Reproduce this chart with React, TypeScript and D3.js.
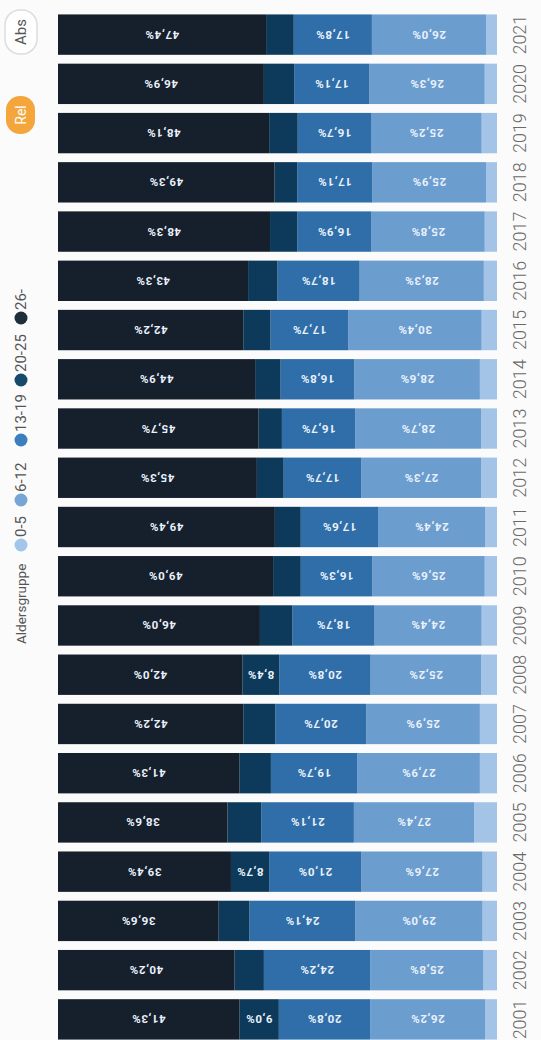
import React from "react";
import * as d3 from "d3";

const W = 541;
const H = 1040;

const years = ["2001", "2002", "2003", "2004", "2005", "2006", "2007", "2008", "2009", "2010", "2011",
  "2012", "2013", "2014", "2015", "2016", "2017", "2018", "2019", "2020", "2021"];
const ageGroups = ["0-5", "6-12", "13-19", "20-25", "26-"];

// share per age group, 2001..2021
const age0to5 = [2.7, 3.1, 3.3, 3.3, 5.2, 3.9, 3.9, 3.6, 3.5, 2.8, 2.7, 3.6, 3.6, 3.9, 3.5, 3.0, 2.8, 2.5, 3.5, 2.8, 2.5];
const age6to12 = [26.2, 25.8, 29.0, 27.6, 27.4, 27.9, 25.9, 25.2, 24.4, 25.6, 24.4, 27.3, 28.7, 28.6, 30.4, 28.3, 25.8, 25.9, 25.2, 26.3, 26.0];
const age13to19 = [20.8, 24.2, 24.1, 21.0, 21.1, 19.7, 20.7, 20.8, 18.7, 16.3, 17.6, 17.7, 16.7, 16.8, 17.7, 18.7, 16.9, 17.1, 16.7, 17.1, 17.8];
const age20to25 = [9.0, 6.7, 7.0, 8.7, 7.7, 7.2, 7.3, 8.4, 7.4, 6.3, 5.9, 6.1, 5.3, 5.8, 6.2, 6.7, 6.2, 5.2, 6.5, 6.9, 6.3];
const age26plus = [41.3, 40.2, 36.6, 39.4, 38.6, 41.3, 42.2, 42.0, 46.0, 49.0, 49.4, 45.3, 45.7, 44.9, 42.2, 43.3, 48.3, 49.3, 48.1, 46.9, 47.4];

const colors = ["#a3c4e6", "#6c9dcf", "#2f6ea8", "#0d3a5a", "#161f2c"];
const dotColors = ["#a2c5e8", "#77a6d6", "#3c7fbf", "#164a6b", "#1f2e3b"];

const rows = years.map((year, i) => ({
  year,
  "0-5": age0to5[i],
  "6-12": age6to12[i],
  "13-19": age13to19[i],
  "20-25": age20to25[i],
  "26-": age26plus[i],
}));

export default function App() {
  // chart is laid out in its own landscape frame, then turned a quarter to match the photo
  const x = d3.scaleBand().domain(years).range([-4, 1030]).paddingInner(0.18).paddingOuter(0.09);
  const y = d3.scaleLinear().domain([0, 100]).range([497, 58]);
  const series = d3.stack().keys(ageGroups)(rows as any);
  const fmt = (v: number) => v.toFixed(1).replace(".", ",") + "%";

  // legend positions along the top edge
  const legendX = [495, 540, 600, 660, 722];
  const legendTextX = [503, 548, 608, 668, 730];

  return (
    <svg width={W} height={H} style={{ position: "absolute", left: 0, top: 0, background: "#fbfbfb" }}
      fontFamily="Roboto, 'Open Sans', sans-serif">
      <g transform={`translate(0,${H}) rotate(-90)`}>
        {series.map((s, k) => (
          <g key={ageGroups[k]} fill={colors[k]}>
            {s.map((d, i) => (
              <rect key={i} x={x(years[i])} width={x.bandwidth()} y={y(d[1])} height={y(d[0]) - y(d[1])} />
            ))}
          </g>
        ))}
        {series.map((s, k) => (
          <g key={"lab" + ageGroups[k]}>
            {s.map((d, i) => {
              const v = d[1] - d[0];
              if (v < 8) return null;
              const cx = (x(years[i]) as number) + x.bandwidth() / 2;
              const cy = (y(d[0]) + y(d[1])) / 2;
              return (
                <text key={i} x={cx} y={cy} transform={`rotate(-90,${cx},${cy})`} textAnchor="middle"
                  dominantBaseline="central" fontSize={11.5} fontWeight={700} letterSpacing={0.6} fill="#e9f1fb">
                  {fmt(v)}
                </text>
              );
            })}
          </g>
        ))}
        {years.map((yr) => (
          <text key={yr} x={(x(yr) as number) + x.bandwidth() / 2} y={519} textAnchor="middle"
            dominantBaseline="central" fontSize={18} fontWeight={300} fill="#6a6a6a">
            {yr}
          </text>
        ))}

        <text x={396} y={21} dominantBaseline="central" fontSize={13.5} fill="#555">Aldersgruppe</text>
        {ageGroups.map((g, k) => (
          <g key={"leg" + g}>
            <circle cx={legendX[k]} cy={21} r={6.5} fill={dotColors[k]} />
            <text x={legendTextX[k]} y={21} dominantBaseline="central" fontSize={15} fill="#555">{g}</text>
          </g>
        ))}

        <rect x={906} y={6} width={38} height={29} rx={14} fill="#f4a63c" />
        <text x={925} y={21} textAnchor="middle" dominantBaseline="central" fontSize={14} fill="#fff">Rel</text>
        <rect x={986} y={5} width={44} height={32} rx={15} fill="#fff" stroke="#ddd" strokeWidth={1.5} />
        <text x={1008} y={21} textAnchor="middle" dominantBaseline="central" fontSize={15} fill="#555">Abs</text>
      </g>
    </svg>
  );
}
